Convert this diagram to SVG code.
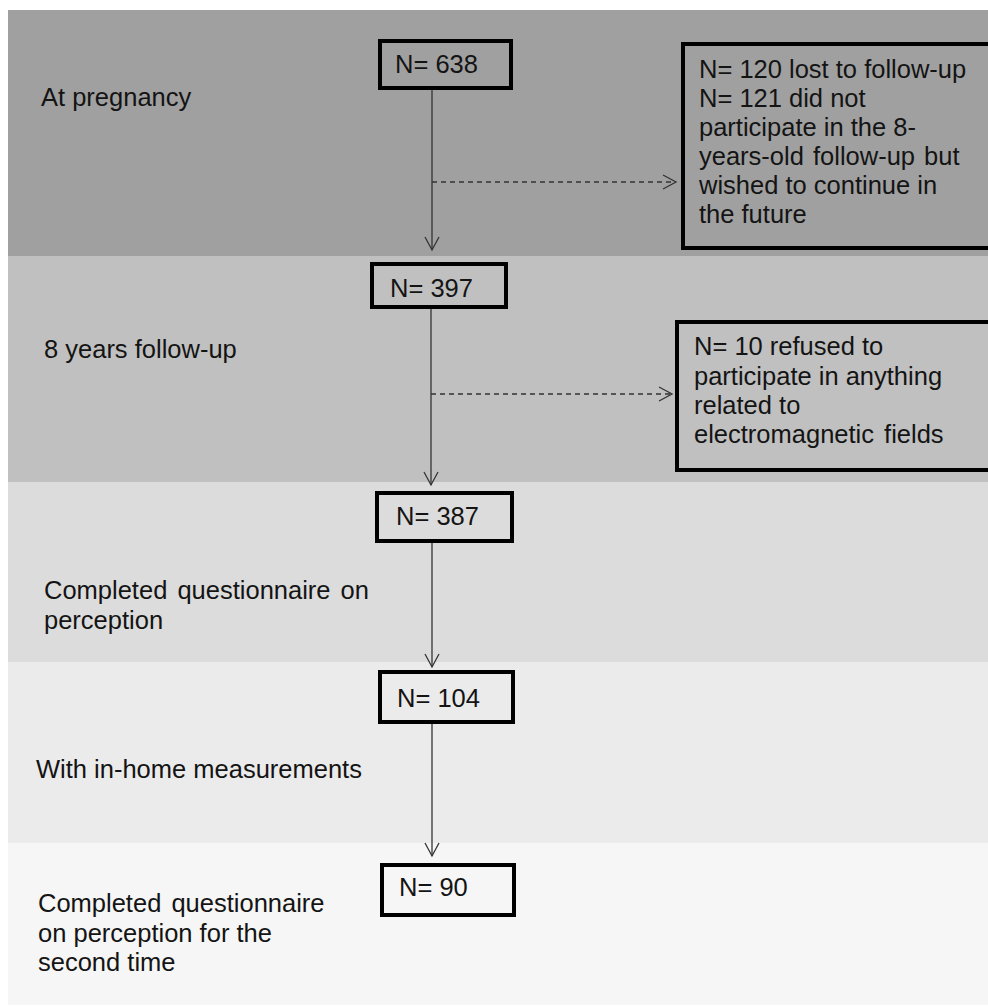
<svg xmlns="http://www.w3.org/2000/svg" width="988" height="1007" viewBox="0 0 988 1007">
<defs>
<style>
text{font-family:"Liberation Sans",Arial,sans-serif;font-size:25.5px;fill:#141414}
.box{stroke:#000;stroke-width:4;}
.conn{stroke:#333;stroke-width:1.3;fill:none}
.dash{stroke-dasharray:5,4}
</style>
<marker id="ah" viewBox="0 0 16 16" refX="14" refY="8" markerWidth="16" markerHeight="16" markerUnits="userSpaceOnUse" orient="auto">
<path d="M1,1 L14,8 L1,15" fill="none" stroke="#333" stroke-width="1.3"/>
</marker>
</defs>
<rect width="988" height="1007" fill="#fff"/>
<g id="bands">
<rect x="8" y="10" width="980" height="246" fill="#a0a0a0"/>
<rect x="8" y="256" width="980" height="226" fill="#c0c0c0"/>
<rect x="8" y="482" width="980" height="180" fill="#dcdcdc"/>
<rect x="8" y="662" width="980" height="181" fill="#ebebeb"/>
<rect x="8" y="843" width="980" height="162" fill="#f6f6f6"/>
</g>
<g id="labels">
<text x="41" y="106">At pregnancy</text>
<text x="44" y="358">8 years follow-up</text>
<text x="44" y="599" word-spacing="3">Completed questionnaire on</text>
<text x="44" y="629">perception</text>
<text x="36" y="778">With in-home measurements</text>
<text x="38" y="912" word-spacing="3">Completed questionnaire</text>
<text x="38" y="942">on perception for the</text>
<text x="38" y="971">second time</text>
</g>
<g id="connectors">
<line class="conn" x1="432" y1="88" x2="432" y2="250" marker-end="url(#ah)"/>
<line class="conn dash" x1="432" y1="182" x2="676" y2="182" marker-end="url(#ah)"/>
<line class="conn" x1="431" y1="307" x2="431" y2="485" marker-end="url(#ah)"/>
<line class="conn dash" x1="431" y1="394" x2="672" y2="394" marker-end="url(#ah)"/>
<line class="conn" x1="432" y1="541" x2="432" y2="667" marker-end="url(#ah)"/>
<line class="conn" x1="432" y1="723" x2="432" y2="856" marker-end="url(#ah)"/>
</g>
<g id="n638">
<rect class="box" x="380" y="41" width="131" height="47" fill="#a0a0a0"/>
<text x="395" y="73">N= 638</text>
</g>
<g id="lost">
<rect class="box" x="683" y="44" width="310" height="204" fill="#a0a0a0"/>
<text x="699" y="78">N= 120 lost to follow-up</text>
<text x="699" y="107">N= 121 did not</text>
<text x="699" y="136">participate in the 8-</text>
<text x="699" y="165" word-spacing="2">years-old follow-up but</text>
<text x="699" y="194">wished to continue in</text>
<text x="699" y="223">the future</text>
</g>
<g id="n397">
<rect class="box" x="372" y="264" width="134" height="43" fill="#c0c0c0"/>
<text x="390" y="297">N= 397</text>
</g>
<g id="refused">
<rect class="box" x="677" y="322" width="316" height="148" fill="#c0c0c0"/>
<text x="694" y="355">N= 10 refused to</text>
<text x="694" y="385">participate in anything</text>
<text x="694" y="414">related to</text>
<text x="694" y="443" word-spacing="3">electromagnetic fields</text>
</g>
<g id="n387">
<rect class="box" x="377" y="493" width="135" height="48" fill="#dcdcdc"/>
<text x="396" y="525">N= 387</text>
</g>
<g id="n104">
<rect class="box" x="380" y="672" width="133" height="50" fill="#ebebeb"/>
<text x="397" y="707">N= 104</text>
</g>
<g id="n90">
<rect class="box" x="382" y="865" width="132" height="50" fill="#f6f6f6"/>
<text x="399" y="896">N= 90</text>
</g>
</svg>
